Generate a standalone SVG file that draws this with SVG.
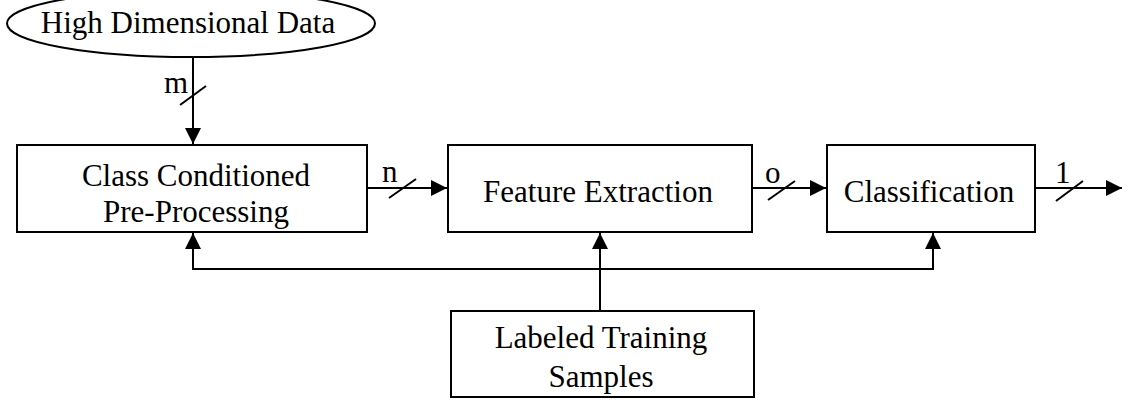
<svg xmlns="http://www.w3.org/2000/svg" width="1134" height="410" viewBox="0 0 1134 410">
<style>
.box{fill:#fff;stroke:#000;stroke-width:2}
.ln{fill:none;stroke:#000;stroke-width:2}
.t{font-family:"Liberation Serif","Times New Roman",serif;font-size:31px;fill:#000;text-anchor:middle}
.l{font-family:"Liberation Serif","Times New Roman",serif;font-size:31px;fill:#000}
</style>
<defs>
<marker id="ah" viewBox="0 0 16 16" refX="16" refY="8" markerWidth="16" markerHeight="16" markerUnits="userSpaceOnUse" orient="auto">
<path d="M0,0 L16,8 L0,16 Z" fill="#000"/>
</marker>
</defs>
<rect width="1134" height="410" fill="#fff"/>
<g id="connectors">
<line class="ln" x1="193" y1="57" x2="193" y2="144" marker-end="url(#ah)"/>
<line class="ln" x1="180" y1="105" x2="206" y2="86"/>
<text class="l" x="164" y="93">m</text>
<line class="ln" x1="367" y1="188" x2="447" y2="188" marker-end="url(#ah)"/>
<line class="ln" x1="389" y1="198" x2="416" y2="179"/>
<text class="l" x="382" y="182">n</text>
<line class="ln" x1="752" y1="188" x2="826" y2="188" marker-end="url(#ah)"/>
<line class="ln" x1="768" y1="200" x2="795" y2="181"/>
<text class="l" x="765" y="183">o</text>
<line class="ln" x1="1035" y1="188" x2="1122" y2="188" marker-end="url(#ah)"/>
<line class="ln" x1="1056" y1="201" x2="1083" y2="181"/>
<text class="l" x="1055" y="183">1</text>
<line class="ln" x1="600" y1="311" x2="600" y2="233" marker-end="url(#ah)"/>
<polyline class="ln" points="193,233 193,269 933,269 933,233"/>
<line class="ln" x1="193" y1="269" x2="193" y2="233" marker-end="url(#ah)"/>
<line class="ln" x1="933" y1="269" x2="933" y2="233" marker-end="url(#ah)"/>
</g>
<g id="high-dimensional-data">
<ellipse class="box" cx="191" cy="23.5" rx="184" ry="33.5"/>
<text class="t" x="188" y="33">High Dimensional Data</text>
</g>
<g id="class-conditioned">
<rect class="box" x="17" y="145" width="350" height="87"/>
<text class="t" x="196" y="186">Class Conditioned</text>
<text class="t" x="196" y="222">Pre-Processing</text>
</g>
<g id="feature-extraction">
<rect class="box" x="448" y="145" width="304" height="87"/>
<text class="t" x="598" y="202">Feature Extraction</text>
</g>
<g id="classification">
<rect class="box" x="827" y="145" width="208" height="87"/>
<text class="t" x="929" y="202">Classification</text>
</g>
<g id="labeled-training">
<rect class="box" x="451" y="311" width="303" height="86"/>
<text class="t" x="601" y="348">Labeled Training</text>
<text class="t" x="601" y="387">Samples</text>
</g>
</svg>
